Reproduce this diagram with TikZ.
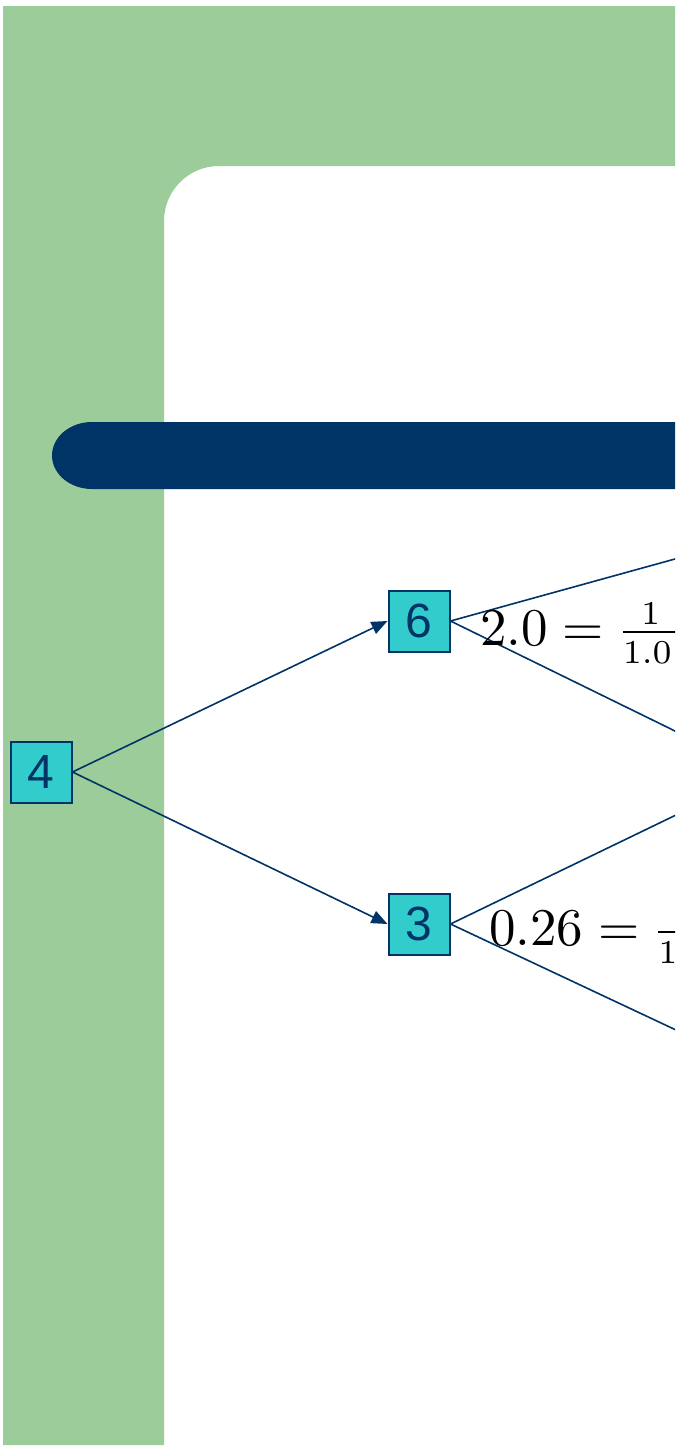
\documentclass[tikz,border=0pt]{standalone}
\usepackage{graphicx}
\usepackage{fontspec}
\newfontfamily\boxfont{Liberation Sans}
\usetikzlibrary{arrows.meta}
\definecolor{framegreen}{RGB}{155,204,153}
\definecolor{navy}{RGB}{0,51,102}
\definecolor{boxcyan}{RGB}{51,204,204}
\newcommand{\fracdig}[1]{\mbox{\scalebox{0.9}{\fontsize{7}{8}\selectfont #1}}}
\newcommand{\fracpart}[1]{\makebox[13.9pt][l]{#1}}
\tikzset{
  numbox/.style={draw=navy, fill=boxcyan, line width=2pt, minimum width=61pt, minimum height=61pt,
    inner sep=0pt, text=navy, font=\boxfont\fontsize{48}{48}\selectfont},
  edge/.style={draw=navy, line width=1.6pt},
  arr/.style={edge, -{Triangle[length=16pt,width=13pt]}},
  mathlabel/.style={anchor=base west, inner sep=0pt, font=\fontsize{10}{12}\selectfont}
}
\begin{document}
\begin{tikzpicture}[x=1pt, y=-1pt]
\useasboundingbox (0,0) rectangle (675,1446);
\clip (0,0) rectangle (675,1446);
% green frame
\fill[framegreen] (3,6) -- (675,6) -- (675,166) -- (219,166)
   arc[start angle=270, end angle=180, radius=55] -- (164,1445) -- (3,1445) -- cycle;
% navy bar
\fill[navy] (675,422) -- (92,422) arc[start angle=270, end angle=90, x radius=40, y radius=33.5] -- (675,489) -- cycle;
% nodes
\node[numbox] (n4) at (41,772) {4};
\node[numbox] (n6) at (419,621) {6};
\node[numbox] (n3) at (419,924) {3};
% off-canvas continuations
\coordinate (u6) at (676,558.7);
\coordinate (d6) at (676,731.5);
\coordinate (u3) at (676,815);
\coordinate (d3) at (676,1030);
\draw[arr] (n4.east) -- (n6.west);
\draw[arr] (n4.east) -- (n3.west);
\draw[edge] (n6.east) -- (u6);
\draw[edge] (n6.east) -- (d6);
\draw[edge] (n3.east) -- (u3);
\draw[edge] (n3.east) -- (d3);
% labels
\node[mathlabel] (l6) at (480,645) {\scalebox{5.3}{\nulldelimiterspace=0.8pt$2.0 = \frac{\fracpart{\hfil\fracdig{1}\hfil}}{\fracpart{\fracdig{1.0}}}$}};
\node[mathlabel] (l3) at (489,945) {\scalebox{5.3}{\nulldelimiterspace=0.8pt$0.26 = \frac{\fracpart{}}{\fracpart{\fracdig{1}}}$}};
\end{tikzpicture}
\end{document}
